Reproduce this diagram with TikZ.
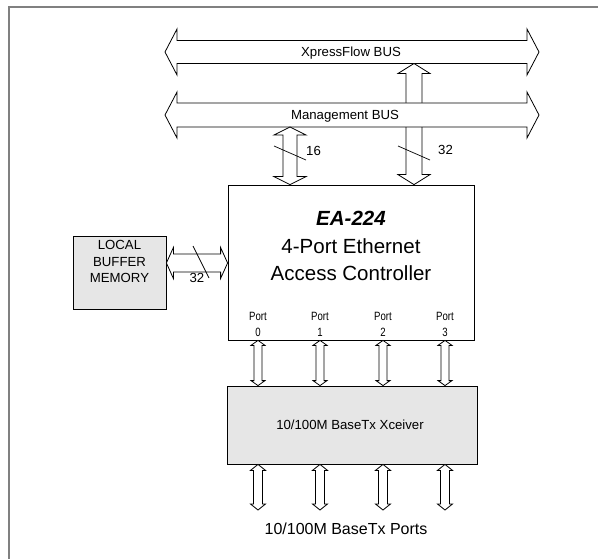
\documentclass[tikz,border=0pt]{standalone}
\usepackage{fontspec}
\setmainfont{Liberation Sans}
\usetikzlibrary{calc}
\definecolor{boxgray}{RGB}{230,230,230}
\definecolor{framegray}{RGB}{128,128,128}
\tikzset{
  shapeline/.style={draw=black,line width=0.8pt,fill=white,line join=miter},
  slashline/.style={draw=black,line width=0.7pt},
  busfont/.style={font=\fontsize{13.2}{15}\selectfont,inner sep=0pt},
  portfont/.style={font=\fontsize{12}{14}\selectfont,inner sep=0pt},
  maintext/.style={font=\fontsize{20.5}{24}\selectfont,inner sep=0pt,anchor=base},
  graybox/.style={draw=black,line width=0.8pt,fill=boxgray},
}
% horizontal double arrow: #1 left tip, #2 right tip, #3 body half, #4 head half, #5 head length
\newcommand\hdarrow[5]{%
  \path[shapeline] let \p1=#1, \p2=#2 in
   (\x1,\y1) -- ({\x1+#5},{\y1+#4}) -- ({\x1+#5},{\y1+#3}) -- ({\x2-#5},{\y2+#3}) -- ({\x2-#5},{\y2+#4})
   -- (\x2,\y2) -- ({\x2-#5},{\y2-#4}) -- ({\x2-#5},{\y2-#3}) -- ({\x1+#5},{\y1-#3}) -- ({\x1+#5},{\y1-#4}) -- cycle;}
% vertical double arrow: #1 top tip, #2 bottom tip, #3 shaft half, #4 head half, #5 head length
\newcommand\vdarrow[5]{%
  \path[shapeline] let \p1=#1, \p2=#2 in
   (\x1,\y1) -- ({\x1+#4},{\y1-#5}) -- ({\x1+#3},{\y1-#5}) -- ({\x2+#3},{\y2+#5}) -- ({\x2+#4},{\y2+#5})
   -- (\x2,\y2) -- ({\x2-#4},{\y2+#5}) -- ({\x2-#3},{\y2+#5}) -- ({\x1-#3},{\y1-#5}) -- ({\x1-#4},{\y1-#5}) -- cycle;}
\begin{document}
\begin{tikzpicture}[x=1pt,y=-1pt]
\useasboundingbox (0,0) rectangle (598,559);
% frame
\draw[framegray,line width=1.5pt] (9,559) -- (9,7) -- (598,7);

% bus end points
\coordinate (xbusL) at (165,52);
\coordinate (xbusR) at (539,52);
\coordinate (mbusL) at (165,115);
\coordinate (mbusR) at (539,115);

% main box
\node[draw=black,line width=0.8pt,minimum width=246pt,minimum height=155pt,inner sep=0pt] (main) at (351,262.5) {};
% local buffer
\node[graybox,minimum width=93pt,minimum height=73pt,inner sep=0pt] (buf) at (119.5,272.5) {};
% xceiver
\node[graybox,minimum width=250pt,minimum height=78pt,inner sep=0pt] (xcvr) at (352,425) {};

% XpressFlow bus
\hdarrow{(xbusL)}{(xbusR)}{11.5pt}{23pt}{12pt}
\node[busfont,anchor=base] (xbus) at (351,56.5) {XpressFlow BUS};
% vertical arrow from XpressFlow bus to main box
\coordinate (xa) at (414,63.5);
\vdarrow{(xa)}{(main.north -| xa)}{8pt}{16pt}{10pt}
% Management bus (over the vertical arrow)
\hdarrow{(mbusL)}{(mbusR)}{12pt}{23pt}{12pt}
\node[busfont,anchor=base] (mbus) at (345,119.5) {Management BUS};
% 16 arrow
\coordinate (ma) at (290,127);
\vdarrow{(ma)}{(main.north -| ma)}{7pt}{16pt}{8pt}
\draw[slashline] (274,146) -- (306,160);
\node[busfont,anchor=base west] (n16) at (306,155.5) {16};
% 32 slash on XpressFlow arrow
\draw[slashline] (398,146) -- (430,160);
\node[busfont,anchor=base west] (n32a) at (438,155) {32};

% buffer arrow
\hdarrow{(buf.east |- 0,263)}{(main.west |- 0,263)}{9pt}{15.5pt}{7pt}
\draw[slashline] (193,246) -- (209,278);
\node[busfont,anchor=base] (n32b) at (197,283) {32};

% texts
\node[busfont,anchor=base] (l1) at (119.5,250) {LOCAL};
\node[busfont,anchor=base] (l2) at (119.5,266.5) {BUFFER};
\node[busfont,anchor=base] (l3) at (119.5,283) {MEMORY};

\node[maintext,font=\fontsize{20.5}{24}\selectfont\bfseries\itshape] (t1) at (351,226) {EA-224};
\node[maintext] (t2) at (351,254) {4-Port Ethernet};
\node[maintext] (t3) at (351,281) {Access Controller};

\node[busfont,anchor=base] (xt) at (350,429.5) {10/100M BaseTx Xceiver};
\node[font=\fontsize{16}{18}\selectfont,inner sep=0pt,anchor=base] (pt) at (346,534) {10/100M BaseTx Ports};

% ports
\foreach \i/\px in {0/258,1/320,2/383,3/445}{
  \node[portfont,anchor=base] (p\i) at (\px,320) {\scalebox{0.8}[1]{Port}};
  \node[portfont,anchor=base] (d\i) at (\px,337) {\scalebox{0.8}[1]{\i}};
  \coordinate (pa\i) at (\px,340);
  \vdarrow{(main.south -| pa\i)}{(xcvr.north -| pa\i)}{4pt}{7pt}{5pt}
  \coordinate (pb\i) at (\px,510);
  \vdarrow{(xcvr.south -| pb\i)}{(pb\i)}{4.5pt}{7.5pt}{6pt}
}
\end{tikzpicture}
\end{document}
